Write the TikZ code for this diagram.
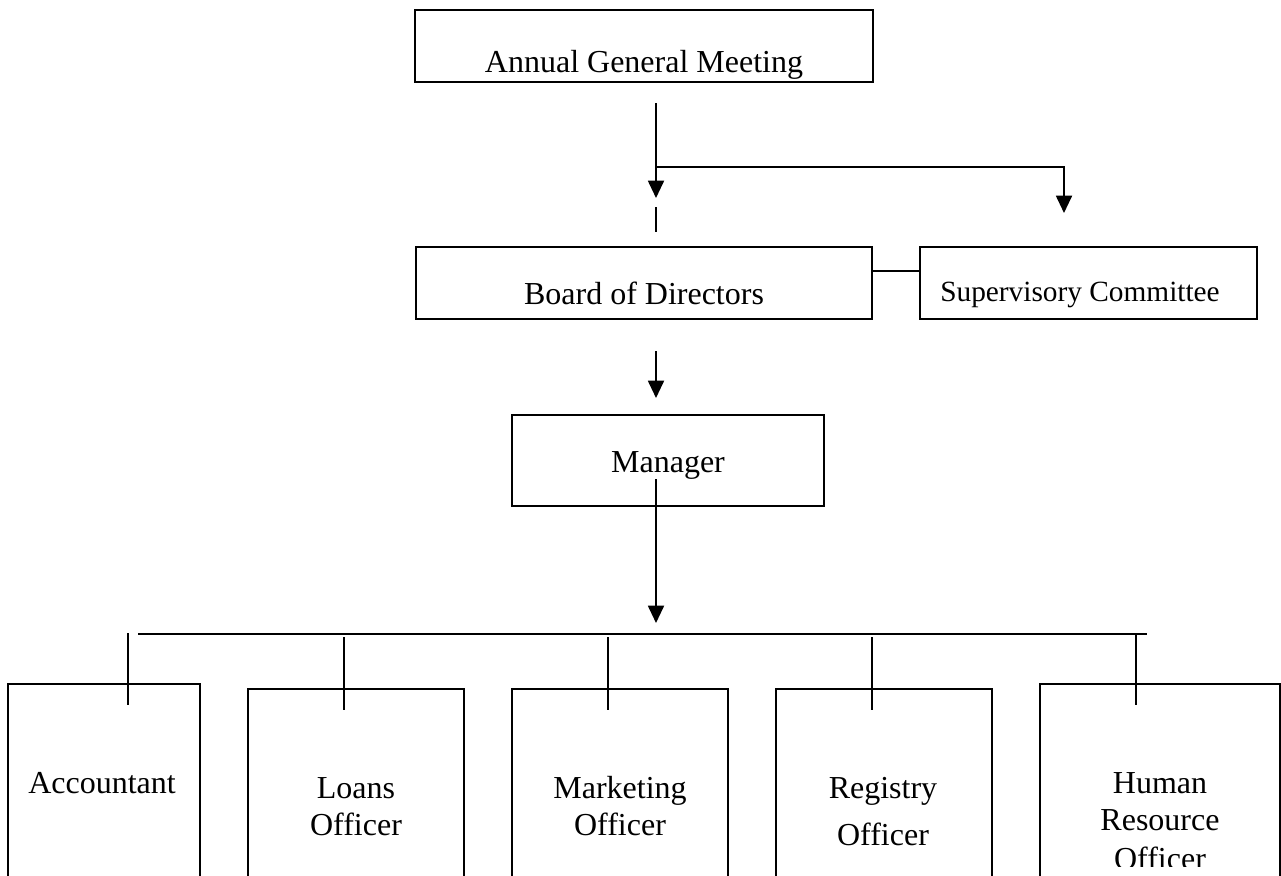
\documentclass[tikz,border=0pt]{standalone}
\usepackage{fontspec}
\setmainfont{Liberation Serif}
\usetikzlibrary{arrows.meta,fit}

\tikzset{
  box/.style={draw=black, line width=1.4pt, inner sep=0pt},
  lbl/.style={anchor=base, inner sep=0pt, font=\fontsize{24}{28}\selectfont},
  smalllbl/.style={anchor=base, inner sep=0pt, font=\fontsize{22}{26}\selectfont},
  wire/.style={line width=1.4pt, line cap=butt},
  arr/.style={wire, -{Triangle[length=13pt,width=12pt]}},
}

\begin{document}
\begin{tikzpicture}[x=0.75pt, y=-0.75pt]
  \useasboundingbox (0,0) rectangle (1281,875);
  \fill[white] (0,0) rectangle (1281,875);
  \clip (0,0) rectangle (1281,875);

  % boxes
  \node[box, fit={(415,10) (873,82)}]     (agm) {};
  \node[box, fit={(416,247) (872,319)}]   (bod) {};
  \node[box, fit={(920,247) (1257,319)}]  (sup) {};
  \node[box, fit={(512,415) (824,506)}]   (mgr) {};
  \node[box, fit={(8,684) (200,900)}]     (acc) {};
  \node[box, fit={(248,689) (464,900)}]   (loa) {};
  \node[box, fit={(512,689) (728,900)}]   (mkt) {};
  \node[box, fit={(776,689) (992,900)}]   (reg) {};
  \node[box, fit={(1040,684) (1280,900)}] (hrm) {};

  % labels
  \node[lbl] (agmT) at (644,72) {Annual General Meeting};
  \node[lbl] (bodT) at (644,304) {Board of Directors};
  \node[smalllbl] (supT) at (1080,301) {Supervisory Committee};
  \node[lbl] (mgrT) at (668,472) {Manager};
  \node[lbl] (accT) at (102,793) {Accountant};
  \node[lbl] (loaT1) at (356,798) {Loans};
  \node[lbl] (loaT2) at (356,835) {Officer};
  \node[lbl] (mktT1) at (620,798) {Marketing};
  \node[lbl] (mktT2) at (620,835) {Officer};
  \node[lbl] (regT1) at (883,798) {Registry};
  \node[lbl] (regT2) at (883,845) {Officer};
  \node[lbl] (hrmT1) at (1160,793) {Human};
  \node[lbl] (hrmT2) at (1160,830) {Resource};
  \begin{scope}
    % the last line sits on the page edge and is cut off
    \clip (1040,840) rectangle (1280,866);
    \node[lbl] (hrmT3) at (1160,869) {Officer};
  \end{scope}

  % connector end points
  \coordinate (agmOut)  at (656,103);
  \coordinate (split)   at (656,167);
  \coordinate (bodTip)  at (656,198);
  \coordinate (gapTop)  at (656,207);
  \coordinate (gapBot)  at (656,232);
  \coordinate (supTurn) at (1064,167);
  \coordinate (supTip)  at (1064,213);
  \coordinate (bodOut)  at (656,351);
  \coordinate (mgrTip)  at (656,398);
  \coordinate (mgrOut)  at (656,479);
  \coordinate (busTip)  at (656,623);
  \coordinate (busL)    at (138,634);
  \coordinate (busR)    at (1147,634);

  % Annual General Meeting to Board and Supervisory Committee
  \draw[arr] (agmOut) -- (bodTip);
  \draw[arr] (split) -- (supTurn) -- (supTip);
  \draw[wire] (gapTop) -- (gapBot);

  % Board beside Supervisory Committee
  \draw[wire] ([yshift=9pt]bod.east) -- ([yshift=9pt]sup.west);

  % Board to Manager, Manager to staff line
  \draw[arr] (bodOut) -- (mgrTip);
  \draw[arr] (mgrOut) -- (busTip);
  \draw[wire] (busL) -- (busR);

  % drops to each officer
  \draw[wire] (128,633) -- (128,705);
  \draw[wire] (344,637) -- (344,710);
  \draw[wire] (608,637) -- (608,710);
  \draw[wire] (872,637) -- (872,710);
  \draw[wire] (1136,633) -- (1136,705);
\end{tikzpicture}
\end{document}
